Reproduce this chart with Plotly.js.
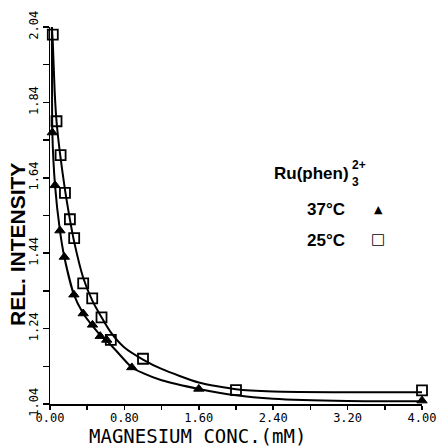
<!DOCTYPE html>
<html>
<head>
<meta charset="utf-8">
<script src="https://cdn.plot.ly/plotly-3.0.1.min.js"></script>
<style>html,body{margin:0;padding:0;background:#fff;}#chart{width:438px;height:447px;}</style>
</head>
<body>
<div id="chart"></div>
<script>
// Measured points, 37 °C (filled triangles)
const conc37 = [0.025, 0.054, 0.107, 0.154, 0.257, 0.357, 0.457, 0.54, 0.61, 0.88, 1.6, 4.0];
const rel37  = [1.76, 1.62, 1.50, 1.43, 1.33, 1.28, 1.25, 1.22, 1.21, 1.137, 1.08, 1.049];
// Measured points, 25 °C (open squares)
const conc25 = [0.03, 0.07, 0.114, 0.161, 0.214, 0.26, 0.357, 0.454, 0.554, 0.654, 1.0, 2.0, 4.0];
const rel25  = [2.02, 1.79, 1.70, 1.60, 1.53, 1.48, 1.36, 1.32, 1.27, 1.21, 1.16, 1.077, 1.076];
// Fitted curves
const fit37x = [0.02, 0.022, 0.025, 0.054, 0.107, 0.154, 0.257, 0.357, 0.457, 0.55, 0.65, 0.88, 1.0, 1.2, 1.6, 2.0, 2.4, 3.2, 4.0];
const fit37y = [2.04, 1.90, 1.76, 1.62, 1.50, 1.43, 1.33, 1.28, 1.247, 1.22, 1.198, 1.137, 1.122, 1.103, 1.080, 1.063, 1.054, 1.048, 1.047];
const fit25x = [0.02, 0.03, 0.05, 0.07, 0.11, 0.16, 0.21, 0.26, 0.357, 0.454, 0.554, 0.654, 0.8, 1.0, 1.2, 1.6, 2.0, 2.4, 3.2, 4.0];
const fit25y = [2.04, 2.00, 1.87, 1.79, 1.70, 1.61, 1.535, 1.47, 1.375, 1.315, 1.27, 1.23, 1.19, 1.158, 1.133, 1.097, 1.079, 1.073, 1.071, 1.071];
// Axis ticks
const xTicks = [0.0, 0.8, 1.6, 2.4, 3.2, 4.0];
const xTickText = ['0.00', '0.80', '1.60', '2.40', '3.20', '4.00'];
const yTicks = [1.04, 1.24, 1.44, 1.64, 1.84, 2.04];
const yTickText = ['1.04', '1.24', '1.44', '1.64', '1.84', '2.04'];

const L = 50, T = 27, W = 372, H = 377;
const px = x => (x - L) / W;
const py = y => (T + H - y) / H;

const mono = {family: 'DejaVu Sans Mono', size: 12, color: '#000'};
const bold = {family: 'Liberation Sans, Arial, sans-serif', size: 17, color: '#000', weight: 'bold'};
const small = {family: 'Liberation Sans, Arial, sans-serif', size: 12, color: '#000', weight: 'bold'};

const traces = [
  {x: fit37x, y: fit37y, mode: 'lines', line: {color: '#000', width: 2, shape: 'spline', smoothing: 0.6}, cliponaxis: false, hoverinfo: 'skip'},
  {x: fit25x, y: fit25y, mode: 'lines', line: {color: '#000', width: 2, shape: 'spline', smoothing: 0.6}, cliponaxis: false, hoverinfo: 'skip'},
  {x: conc37, y: rel37, mode: 'markers', name: '37°C', cliponaxis: false,
   marker: {symbol: 'triangle-up', size: 9, color: '#000', line: {color: '#000', width: 1}}},
  {x: conc25, y: rel25, mode: 'markers', name: '25°C', cliponaxis: false,
   marker: {symbol: 'square-open', size: 10, color: '#000', line: {color: '#000', width: 1.8}}}
];

const layout = {
  width: 438, height: 447,
  margin: {l: L, r: 438 - L - W, t: T, b: 447 - T - H},
  paper_bgcolor: '#fff', plot_bgcolor: '#fff',
  showlegend: false,
  xaxis: {
    range: [0, 4.0], showgrid: false, zeroline: false, showline: true, linecolor: '#000', linewidth: 1.5,
    ticks: 'outside', ticklen: 4, tickwidth: 1.5, tickcolor: '#000', ticklabelstandoff: -2,
    tickvals: xTicks, ticktext: xTickText, tickfont: mono,
    minor: {dtick: 0.4, tick0: 0, ticks: 'outside', ticklen: 4, tickwidth: 1.5, tickcolor: '#000', showgrid: false}
  },
  yaxis: {
    range: [1.04, 2.04], showgrid: false, zeroline: false, showline: true, linecolor: '#000', linewidth: 1.5,
    ticks: 'outside', ticklen: 6, tickwidth: 1.5, tickcolor: '#000',
    tickvals: yTicks, ticktext: yTickText, tickfont: mono, tickangle: -90,
    minor: {dtick: 0.1, tick0: 1.04, ticks: 'outside', ticklen: 6, tickwidth: 1.5, tickcolor: '#000', showgrid: false}
  },
  annotations: [
    {text: 'MAGNESIUM CONC.(mM)', xref: 'paper', yref: 'paper', x: px(197), y: py(436), xanchor: 'center', yanchor: 'middle', showarrow: false,
     borderpad: 0,
     font: {family: 'DejaVu Sans Mono', size: 19, color: '#000'}},
    {text: 'REL. INTENSITY', xref: 'paper', yref: 'paper', x: px(17), y: py(245), xanchor: 'center', yanchor: 'middle', showarrow: false, textangle: -90,
     font: {family: 'Liberation Sans, Arial, sans-serif', size: 21, color: '#000', weight: 'bold'}},
    {text: 'Ru(phen)', xref: 'paper', yref: 'paper', x: px(272), y: py(174), xanchor: 'left', yanchor: 'middle', showarrow: false, font: bold},
    {text: '2+', xref: 'paper', yref: 'paper', x: px(350), y: py(165), xanchor: 'left', yanchor: 'middle', showarrow: false, font: small},
    {text: '3', xref: 'paper', yref: 'paper', x: px(350), y: py(182), xanchor: 'left', yanchor: 'middle', showarrow: false, font: small},
    {text: '37°C', xref: 'paper', yref: 'paper', x: px(326), y: py(209), xanchor: 'center', yanchor: 'middle', showarrow: false, font: bold},
    {text: '▲', xref: 'paper', yref: 'paper', x: px(378), y: py(209), xanchor: 'center', yanchor: 'middle', showarrow: false,
     font: {family: 'DejaVu Sans', size: 11, color: '#000'}},
    {text: '25°C', xref: 'paper', yref: 'paper', x: px(326), y: py(240), xanchor: 'center', yanchor: 'middle', showarrow: false, font: bold},
    {text: '□', xref: 'paper', yref: 'paper', x: px(378), y: py(239), xanchor: 'center', yanchor: 'middle', showarrow: false,
     font: {family: 'DejaVu Sans', size: 15, color: '#000'}}
  ]
};

Plotly.newPlot('chart', traces, layout, {displayModeBar: false, staticPlot: true});
</script>
</body>
</html>
